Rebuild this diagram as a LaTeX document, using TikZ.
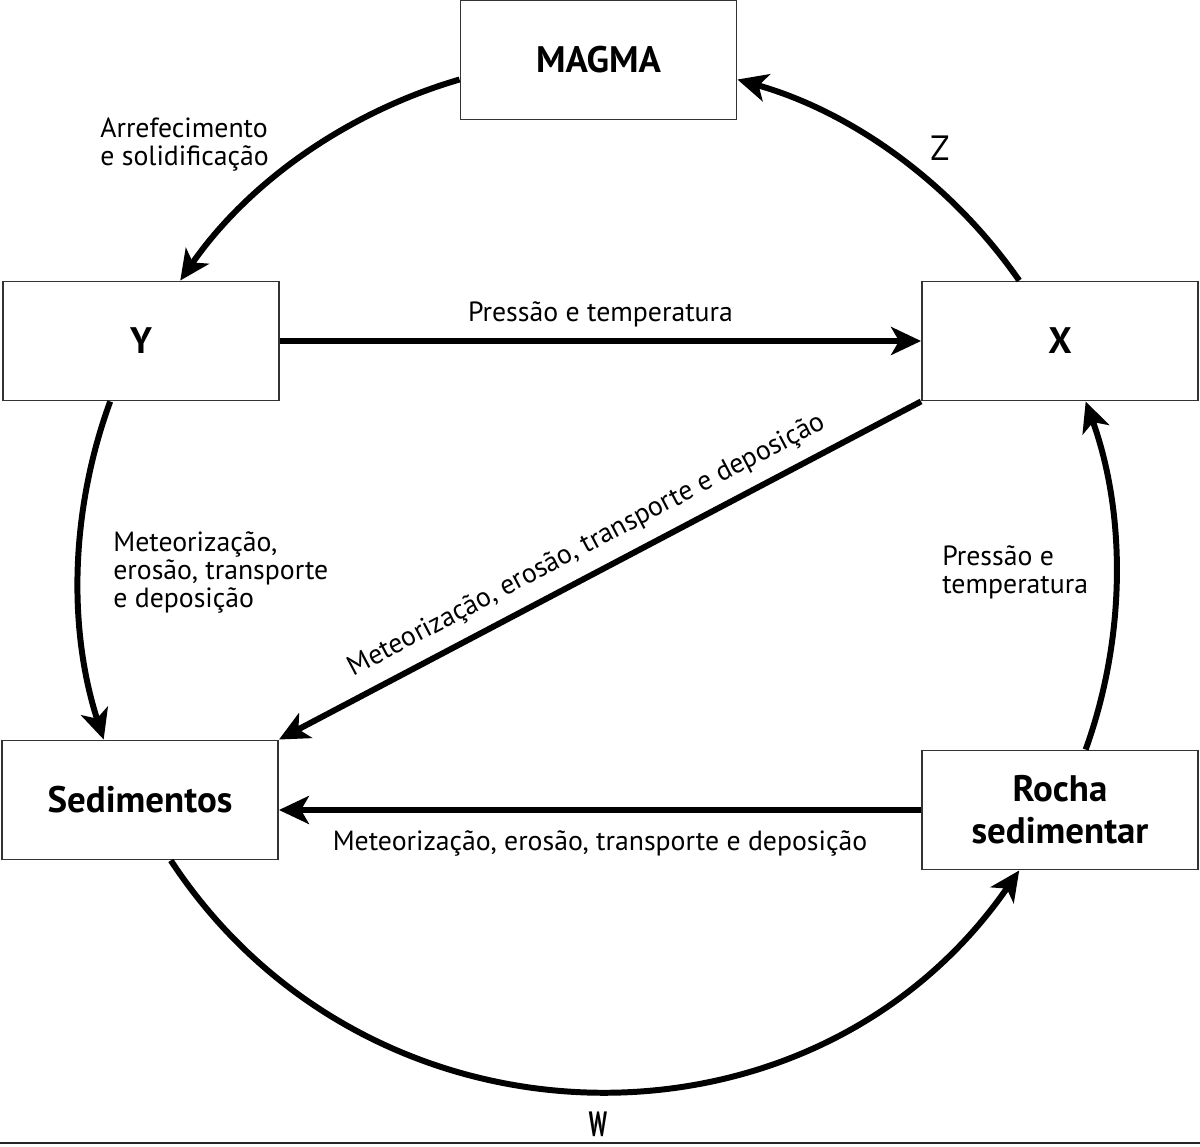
\documentclass[tikz,border=0pt]{standalone}
\usepackage{fontspec}
\setmainfont{PT Sans}
\usetikzlibrary{arrows.meta}
\tikzset{
  rockbox/.style={draw=black!80, line width=1.1pt, minimum width=5.52cm, minimum height=2.38cm, align=center, font=\fontsize{21}{24}\selectfont\bfseries, fill=none},
  flow/.style={-{Stealth[length=6mm, width=5.6mm, inset=1.6mm]}, line width=3.4pt, draw=black},
  arc/.style={flow, bend right=#1, looseness=0.88},
  note/.style={font=\fontsize{15.8}{16}\selectfont, align=left, inner sep=0pt},
  tag/.style={font=\fontsize{20}{22}\selectfont, inner sep=0pt}
}

\begin{document}
\begin{tikzpicture}[x=0.02cm, y=0.02cm]
  \useasboundingbox (0,0) rectangle (1200,1146);
  \node[rockbox] (magma) at (598.5,1086) {MAGMA};
  \node[rockbox] (Y) at (141,805) {Y};
  \node[rockbox] (X) at (1060,805) {X};
  \node[rockbox] (sed) at (140,346) {Sedimentos};
  \node[rockbox] (rocha) at (1060,336) {Rocha\\sedimentar};

  % circle of the cycle
  \draw[arc=19.5] (magma.188) to (Y.57);
  \draw[arc=19.7] (X.124) to (magma.-8);
  \draw[arc=19] (Y.-117) to (sed.121);
  \draw[arc=19.8] (rocha.67) to (X.-67);
  \draw[flow, bend right=56, looseness=1.09] (sed.-63) to (rocha.-124);

  % straight links
  \draw[flow] (Y.east) -- node[note, above=6pt] {Pressão e temperatura} (X.west);
  \draw[flow] (X.south west) -- node[note, sloped, above=7pt] {Meteorização, erosão, transporte e deposição} (sed.north east);
  \draw[flow] (rocha.west) -- node[note, below=10pt] {Meteorização, erosão, transporte e deposição} (rocha.west -| sed.east);

  \node[note, anchor=north west] (cool) at (100,1029) {Arrefecimento\\e solidificação};
  \node[note, anchor=north west] (wear) at (113,615) {Meteorização,\\erosão, transporte\\e deposição};
  \node[note, anchor=north west] (heat) at (942,601) {Pressão e\\temperatura};
  \node[tag] (z) at (940,998) {Z};
  \node[tag] (w) at (598,22) {\scalebox{0.6}[1]{\bfseries W}};

  \coordinate (base l) at (0,3);
  \coordinate (base r) at (1200,3);
  \draw[black!85, line width=1.1pt] (base l) -- (base r);
\end{tikzpicture}
\end{document}
